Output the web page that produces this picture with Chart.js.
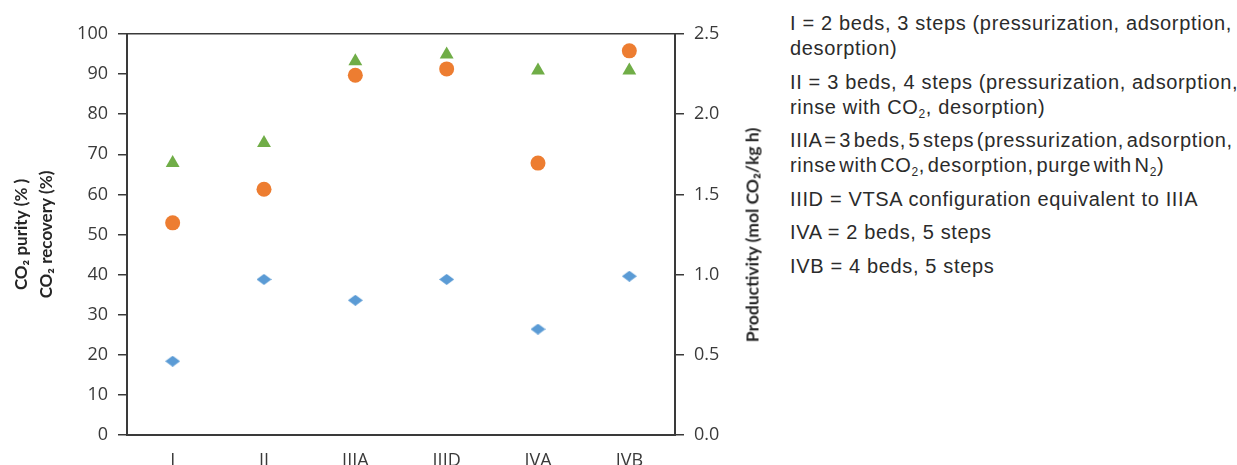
<!DOCTYPE html>
<html lang="en">
<head>
    <meta charset="UTF-8">
    <title>PSA cycle configurations</title>
    <script src="https://cdn.jsdelivr.net/npm/chart.js"></script>
    <style>
        body { margin: 0; background: #fff; }
        .wrap { position: relative; width: 1237px; height: 465px; overflow: hidden; }
        #cycleChart { position: absolute; left: 0; top: 0; }
        .right-title {
            position: absolute;
            left: 752px;
            top: 235px;
            transform: translate(-50%, -50%) rotate(-90deg);
            font: bold 17.5px Lato, sans-serif;
            color: #262626;
            white-space: nowrap;
        }
        .notes {
            position: absolute;
            left: 790px;
            top: 11px;
            font-family: "Liberation Sans", Arial, sans-serif;
            font-size: 20px;
            letter-spacing: 0.65px;
            line-height: 25px;
            color: #2b2b2b;
            white-space: nowrap;
        }
        .notes p { margin: 0 0 8.5px 0; }
        .notes sub { font-size: 12px; line-height: 0; vertical-align: -4px; }
        .notes .tight { word-spacing: -3.5px; }
    </style>
</head>
<body>
    <div class="wrap">
        <canvas id="cycleChart" width="780" height="465"></canvas>
        <div class="right-title">Productivity (mol CO₂/kg h)</div>
        <div class="notes">
            <p>I = 2 beds, 3 steps (pressurization, adsorption,<br>desorption)</p>
            <p>II = 3 beds, 4 steps (pressurization, adsorption,<br>rinse with CO<sub>2</sub>, desorption)</p>
            <p class="tight">IIIA = 3 beds, 5 steps (pressurization, adsorption,<br>rinse with CO<sub>2</sub>, desorption, purge with N<sub>2</sub>)</p>
            <p>IIID = VTSA configuration equivalent to IIIA</p>
            <p>IVA = 2 beds, 5 steps</p>
            <p>IVB = 4 beds, 5 steps</p>
        </div>
    </div>
    <script>
        // Data
        const categories = ['I', 'II', 'IIIA', 'IIID', 'IVA', 'IVB'];
        const purity = [67.8, 72.8, 93.2, 94.9, 90.9, 90.9];       // green triangles, left axis
        const recovery = [52.9, 61.3, 89.7, 91.3, 67.8, 95.8];     // orange circles, left axis
        const productivity = [0.46, 0.97, 0.84, 0.97, 0.66, 0.99]; // blue diamonds, right axis
        const leftTicks = [0, 10, 20, 30, 40, 50, 60, 70, 80, 90, 100];
        const rightTicks = [0, 0.5, 1.0, 1.5, 2.0, 2.5];

        const axisColor = '#3a3a3a';
        const tickFont = { family: 'Open Sans', size: 18 };

        // squashed diamond marker like the original
        const diamond = document.createElement('canvas');
        diamond.width = 15;
        diamond.height = 11;
        const dctx = diamond.getContext('2d');
        dctx.fillStyle = '#5B9BD5';
        dctx.beginPath();
        dctx.moveTo(7.5, 0);
        dctx.lineTo(15, 5.5);
        dctx.lineTo(7.5, 11);
        dctx.lineTo(0, 5.5);
        dctx.closePath();
        dctx.fill();

        const ctx = document.getElementById('cycleChart').getContext('2d');
        new Chart(ctx, {
            type: 'line',
            data: {
                labels: categories,
                datasets: [
                    {
                        label: 'CO₂ purity',
                        data: purity,
                        yAxisID: 'y',
                        showLine: false,
                        pointStyle: 'triangle',
                        pointRadius: 8,
                        pointBorderWidth: 0,
                        backgroundColor: '#70AD47',
                        borderColor: '#70AD47'
                    },
                    {
                        label: 'CO₂ recovery',
                        data: recovery,
                        yAxisID: 'y',
                        showLine: false,
                        pointStyle: 'circle',
                        pointRadius: 7.5,
                        pointBorderWidth: 0,
                        backgroundColor: '#ED7D31',
                        borderColor: '#ED7D31'
                    },
                    {
                        label: 'Productivity',
                        data: productivity,
                        yAxisID: 'y2',
                        showLine: false,
                        pointStyle: diamond,
                        pointRadius: 7,
                        backgroundColor: '#5B9BD5',
                        borderColor: '#5B9BD5'
                    }
                ]
            },
            options: {
                responsive: false,
                animation: false,
                layout: { padding: 0 },
                plugins: {
                    legend: { display: false },
                    tooltip: { enabled: false }
                },
                scales: {
                    x: {
                        type: 'category',
                        position: 'bottom',
                        offset: true,
                        grid: { display: false, drawTicks: false },
                        border: { display: true, color: axisColor, width: 2 },
                        ticks: { color: axisColor, font: tickFont, padding: 15 },
                        afterFit: s => { s.height = 30; }
                    },
                    x2: {
                        type: 'category',
                        axis: 'x',
                        position: 'top',
                        offset: true,
                        grid: { display: false, drawTicks: false },
                        border: { display: true, color: axisColor, width: 1.5 },
                        ticks: { display: false },
                        afterFit: s => { s.height = 34; }
                    },
                    y: {
                        position: 'left',
                        min: 0,
                        max: 100,
                        afterBuildTicks: s => { s.ticks = leftTicks.map(v => ({ value: v })); },
                        grid: { drawOnChartArea: false, tickLength: 9, color: axisColor, lineWidth: 1.5 },
                        border: { color: axisColor, width: 2 },
                        ticks: { color: axisColor, font: tickFont, padding: 10 },
                        title: {
                            display: true,
                            text: ['CO₂ purity (% )', 'CO₂ recovery (%)'],
                            color: '#262626',
                            font: { family: 'Lato', size: 17, weight: 'bold', lineHeight: '25px' },
                            padding: { top: 9.5, bottom: 0 }
                        },
                        afterFit: s => { s.width = 127; }
                    },
                    y2: {
                        position: 'right',
                        min: 0,
                        max: 2.5,
                        afterBuildTicks: s => { s.ticks = rightTicks.map(v => ({ value: v })); },
                        grid: { drawOnChartArea: false, tickLength: 9, color: axisColor, lineWidth: 1.5 },
                        border: { color: axisColor, width: 2 },
                        ticks: {
                            color: axisColor,
                            font: tickFont,
                            padding: 10,
                            callback: v => Number(v).toFixed(1)
                        },
                        afterFit: s => { s.width = 105; }
                    }
                }
            }
        });
    </script>
</body>
</html>
